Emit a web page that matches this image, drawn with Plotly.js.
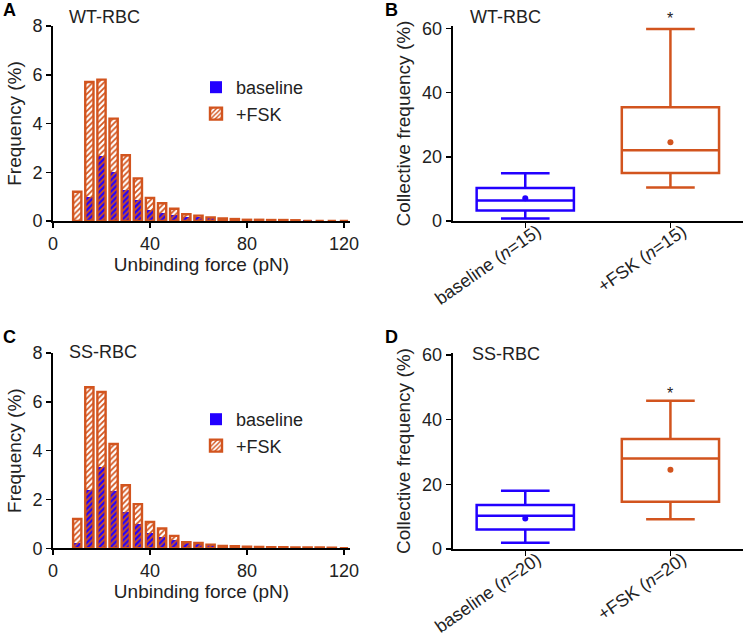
<!DOCTYPE html>
<html><head><meta charset="utf-8">
<script src="https://cdn.plot.ly/plotly-3.0.1.min.js"></script>
<style>html,body{margin:0;padding:0;background:#fff}#chart{width:747px;height:639px}</style>
</head><body><div id="chart"></div>
<script>
// Histogram bin centres (pN)
const binCenters = [10,15,20,25,30,35,40,45,50,55,60,65,70,75,80,85,90,95,100,105,110,115,120];
// Panel A (WT-RBC)
const wtBaseline = [0,1.0,2.68,2.02,1.29,0.86,0.44,0.33,0.25,0.18,0.15,0.11,0.07,0.05,0.04,0.03,0.06,0.02,0.02,0.05,0.01,0.01,0.04];
const wtFSK      = [1.2,5.7,5.8,4.2,2.7,1.75,0.95,0.73,0.5,0.28,0.22,0.15,0.1,0.08,0.05,0.05,0.04,0.04,0.03,0,0,0,0];
// Panel C (SS-RBC)
const ssBaseline = [0.2,2.4,3.33,2.33,1.5,1.0,0.64,0.47,0.36,0.2,0.19,0.14,0.08,0.07,0.06,0.05,0.04,0.04,0.03,0.02,0.02,0.01,0.04];
const ssFSK      = [1.2,6.6,6.4,4.27,2.58,1.81,1.08,0.81,0.51,0.25,0.22,0.15,0.1,0.09,0.07,0.06,0.05,0.04,0.03,0.03,0.03,0.02,0];

// Box summaries
const wtCats = ['baseline (<i>n</i>=15)', '+FSK (<i>n</i>=15)'];
const wtBoxBaseline = {lo:0.8, q1:3.3, med:6.4, q3:10.3, hi:14.85, mean:7.06};
const wtBoxFSK      = {lo:10.4, q1:14.95, med:22.0, q3:35.4, hi:59.8, mean:24.5};
const ssCats = ['baseline (<i>n</i>=20)', '+FSK (<i>n</i>=20)'];
const ssBoxBaseline = {lo:1.96, q1:6.0, med:10.3, q3:13.6, hi:18.04, mean:9.4};
const ssBoxFSK      = {lo:9.2, q1:14.6, med:28.0, q3:34.0, hi:45.8, mean:24.5};

const BLUE = '#2200ff', ORANGE = '#d2541e', TXT = '#222';
const FONT = 'Liberation Sans, Arial, sans-serif';
const TICK = 18, TITLE = 19;

function histTraces(xa, ya, base, fsk, legend) {
  return [
    {type:'bar', x:binCenters, y:base, xaxis:xa, yaxis:ya, name:'baseline', legend:legend,
     width:3.4, marker:{color:BLUE, line:{width:0}}},
    {type:'bar', x:binCenters, y:fsk, xaxis:xa, yaxis:ya, name:'+FSK', legend:legend,
     width:3.4, marker:{color:ORANGE, line:{color:ORANGE, width:2.4},
       pattern:{shape:'/', fgcolor:ORANGE, bgcolor:'rgba(0,0,0,0)', size:4, solidity:0.45, fillmode:'replace'}}}
  ];
}
function boxTrace(xa, ya, cat, s, color) {
  return {type:'box', x:[cat], q1:[s.q1], median:[s.med], q3:[s.q3], lowerfence:[s.lo], upperfence:[s.hi],
    xaxis:xa, yaxis:ya, showlegend:false, width:0.67, whiskerwidth:0.5,
    line:{color:color, width:2.5}, fillcolor:'rgba(0,0,0,0)', hoverinfo:'skip'};
}
function meanTrace(xa, ya, cats, means, colors) {
  return {type:'scatter', mode:'markers', x:cats, y:means, xaxis:xa, yaxis:ya, showlegend:false,
    marker:{color:colors, size:6}, hoverinfo:'skip'};
}

const data = [
  ...histTraces('x','y', wtBaseline, wtFSK, 'legend'),
  ...histTraces('x3','y3', ssBaseline, ssFSK, 'legend2'),
  boxTrace('x2','y2', wtCats[0], wtBoxBaseline, BLUE),
  boxTrace('x2','y2', wtCats[1], wtBoxFSK, ORANGE),
  meanTrace('x2','y2', wtCats, [wtBoxBaseline.mean, wtBoxFSK.mean], [BLUE, ORANGE]),
  boxTrace('x4','y4', ssCats[0], ssBoxBaseline, BLUE),
  boxTrace('x4','y4', ssCats[1], ssBoxFSK, ORANGE),
  meanTrace('x4','y4', ssCats, [ssBoxBaseline.mean, ssBoxFSK.mean], [BLUE, ORANGE])
];

const W = 747, H = 639;
const px = v => v / W, py = v => 1 - v / H;

const axBase = {showgrid:false, zeroline:false, showline:true, linecolor:'#000', linewidth:2,
  ticks:'outside', ticklen:5, tickwidth:1.5, tickcolor:'#000',
  tickfont:{family:FONT, size:TICK, color:TXT}};

function histX(dom, anchor) {
  return Object.assign({}, axBase, {domain:dom, anchor:anchor, range:[0,122.5], tickvals:[0,40,80,120],
    title:{text:'Unbinding force (pN)', font:{family:FONT, size:TITLE, color:TXT}, standoff:0}});
}
function histY(dom, anchor) {
  return Object.assign({}, axBase, {domain:dom, anchor:anchor, range:[0,8], tickvals:[0,2,4,6,8],
    title:{text:'Frequency (%)', font:{family:FONT, size:TITLE, color:TXT}, standoff:6}});
}
function boxX(dom, anchor, cats) {
  return Object.assign({}, axBase, {domain:dom, anchor:anchor, type:'category', categoryarray:cats,
    range:[-0.5,1.5], tickangle:-35, ticklabelstandoff:-14, ticklabelshift:12});
}
function boxY(dom, anchor, top) {
  return Object.assign({}, axBase, {domain:dom, anchor:anchor, range:[0,top], tickvals:[0,20,40,60],
    title:{text:'Collective frequency (%)', font:{family:FONT, size:TITLE, color:TXT}, standoff:6}});
}

const ann = (x, y, text, opts) => Object.assign({xref:'paper', yref:'paper', x:x, y:y, text:text,
  showarrow:false, xanchor:'left', yanchor:'middle', font:{family:FONT, size:18, color:TXT}}, opts||{});

const layout = {
  width:W, height:H, margin:{l:0, r:0, t:0, b:0}, paper_bgcolor:'#fff', plot_bgcolor:'rgba(0,0,0,0)',
  barmode:'overlay', boxmode:'overlay', bargap:0,
  font:{family:FONT, color:TXT},
  xaxis: histX([px(53), px(350)], 'y'),
  yaxis: histY([py(221), py(26)], 'x'),
  xaxis2: boxX([px(452.7), px(743)], 'y2', wtCats),
  yaxis2: boxY([py(221), py(26)], 'x2', 60.7),
  xaxis3: histX([px(53), px(350)], 'y3'),
  yaxis3: histY([py(548.3), py(353)], 'x3'),
  xaxis4: boxX([px(452.7), px(743)], 'y4', ssCats),
  yaxis4: boxY([py(549), py(353)], 'x4', 60.6),
  legend: {x:px(196), y:py(69), xanchor:'left', yanchor:'top', bgcolor:'rgba(0,0,0,0)',
    font:{family:FONT, size:TICK, color:TXT}, tracegroupgap:0, itemwidth:30},
  legend2: {x:px(196), y:py(401), xanchor:'left', yanchor:'top', bgcolor:'rgba(0,0,0,0)',
    font:{family:FONT, size:TICK, color:TXT}, tracegroupgap:0, itemwidth:30},
  annotations: [
    ann(px(1), py(10), '<b>A</b>', {font:{family:FONT, size:18, color:'#000'}}),
    ann(px(383), py(10), '<b>B</b>', {font:{family:FONT, size:18, color:'#000'}}),
    ann(px(1), py(337), '<b>C</b>', {font:{family:FONT, size:18, color:'#000'}}),
    ann(px(383), py(337), '<b>D</b>', {font:{family:FONT, size:18, color:'#000'}}),
    ann(px(67), py(17), 'WT-RBC'),
    ann(px(468), py(17), 'WT-RBC'),
    ann(px(67), py(352), 'SS-RBC'),
    ann(px(470), py(354), 'SS-RBC'),
    {xref:'x2', yref:'y2', x:wtCats[1], y:wtBoxFSK.hi, text:'*', showarrow:false, yanchor:'bottom', yshift:0,
     font:{family:FONT, size:16, color:TXT}},
    {xref:'x4', yref:'y4', x:ssCats[1], y:ssBoxFSK.hi, text:'*', showarrow:false, yanchor:'bottom', yshift:-3,
     font:{family:FONT, size:16, color:TXT}}
  ]
};

Plotly.newPlot('chart', data, layout, {staticPlot:true, displayModeBar:false});
</script></body></html>
